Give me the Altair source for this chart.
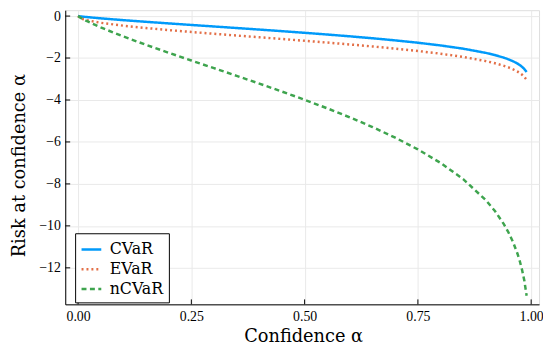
import altair as alt
import pandas as pd

# ---- data ----
alpha = [0.0, 0.005, 0.01, 0.02, 0.05, 0.10, 0.15, 0.20, 0.25, 0.30, 0.35, 0.40,
         0.45, 0.50, 0.55, 0.60, 0.65, 0.70, 0.75, 0.80, 0.85, 0.90, 0.92, 0.94,
         0.95, 0.96, 0.97, 0.975, 0.98, 0.985, 0.99]
cvar = [0.0, -0.0145, -0.0269, -0.0494, -0.1085, -0.1950, -0.2742, -0.3500, -0.4237,
        -0.4967, -0.5698, -0.6439, -0.7196, -0.7979, -0.8796, -0.9658, -1.0583,
        -1.1590, -1.2711, -1.3998, -1.5544, -1.7550, -1.8580, -1.9850, -2.0627,
        -2.1540, -2.2680, -2.3378, -2.4216, -2.5240, -2.6660]
evar = [0.0, -0.1001, -0.1418, -0.2010, -0.3203, -0.4590, -0.5701, -0.6680, -0.7585,
        -0.8446, -0.9282, -1.0108, -1.0935, -1.1774, -1.2637, -1.3537, -1.4490,
        -1.5518, -1.6651, -1.7941, -1.9479, -2.1460, -2.2476, -2.3721, -2.4477,
        -2.5373, -2.6482, -2.7162, -2.7971, -2.8981, -3.0349]
ncvar = [0.0, -0.0727, -0.1346, -0.2470, -0.5426, -0.9750, -1.3710, -1.7500, -2.1190,
         -2.4840, -2.8490, -3.2200, -3.5980, -3.9890, -4.3980, -4.8290, -5.2920,
         -5.7950, -6.3560, -6.9990, -7.7720, -8.7750, -9.2900, -9.9250, -10.3140,
         -10.7700, -11.3400, -11.6890, -12.1080, -12.6200, -13.3300]

series_names = ["CVaR", "EVaR", "nCVaR"]
series_colors = ["#009AFA", "#E36F47", "#3EA44E"]
series_dash = [[1, 0], [2, 3], [5, 3.5]]

x_ticks = [0.0, 0.25, 0.5, 0.75, 1.0]
y_ticks = [0, -2, -4, -6, -8, -10, -12]

# ---- tables ----
rows = []
for name, vals in zip(series_names, [cvar, evar, ncvar]):
    for a, v in zip(alpha, vals):
        rows.append({"alpha": a, "risk": v, "series": name})
df = pd.DataFrame(rows)
xt = pd.DataFrame({"alpha": x_ticks})
yt = pd.DataFrame({"risk": y_ticks})

W, H = 480, 298
xscale = alt.Scale(domain=[-0.0283, 1.0174], nice=False, zero=False)
yscale = alt.Scale(domain=[-13.74, 0.28], nice=False, zero=False)

serif = "DejaVu Serif"
tickfont = "Liberation Serif"

xaxis = alt.Axis(values=x_ticks, format=".2f", title="Confidence α",
                 labelFont=tickfont, labelFontSize=14, labelColor="black",
                 labelPadding=5, ticks=False, grid=True,
                 gridColor="#e9e9e9", gridWidth=1,
                 domainColor="black", domainWidth=1,
                 titleFont=serif, titleFontSize=18, titleFontWeight="normal",
                 titleColor="black", titleBaseline="alphabetic",
                 titleY=38, titleX=241, titleAlign="center")
yaxis = alt.Axis(values=y_ticks, format="d", title="Risk at confidence α",
                 labelFont=tickfont, labelFontSize=14, labelColor="black",
                 labelPadding=5, ticks=False, grid=True,
                 gridColor="#e9e9e9", gridWidth=1,
                 domainColor="black", domainWidth=1,
                 titleFont=serif, titleFontSize=18, titleFontWeight="normal",
                 titleColor="black", titleBaseline="alphabetic",
                 titleAngle=270, titleX=-41, titleY=H / 2 + 8, titleAlign="center")

legend = alt.Legend(title=None, orient="none", legendX=10, legendY=226,
                    fillColor="white", strokeColor="black",
                    padding=5, rowPadding=0,
                    labelFont=serif, labelFontSize=16, labelColor="black",
                    labelOffset=7, symbolType="stroke", symbolSize=400,
                    symbolStrokeWidth=2.5)

lines = alt.Chart(df).mark_line(strokeWidth=2.5).encode(
    x=alt.X("alpha:Q", scale=xscale, axis=xaxis),
    y=alt.Y("risk:Q", scale=yscale, axis=yaxis),
    color=alt.Color("series:N", scale=alt.Scale(domain=series_names, range=series_colors),
                    legend=legend),
    strokeDash=alt.StrokeDash("series:N", scale=alt.Scale(domain=series_names, range=series_dash),
                              legend=legend),
    order=alt.Order("alpha:Q"),
)

xtick_marks = alt.Chart(xt).mark_rule(color="black", strokeWidth=1).encode(
    x=alt.X("alpha:Q", scale=xscale),
    y=alt.value(H - 5), y2=alt.value(H),
)
ytick_marks = alt.Chart(yt).mark_rule(color="black", strokeWidth=1).encode(
    y=alt.Y("risk:Q", scale=yscale),
    x=alt.value(0), x2=alt.value(5),
)

chart = alt.layer(lines, xtick_marks, ytick_marks).properties(
    width=W, height=H,
    autosize=alt.AutoSizeParams(type="none"),
    padding={"left": 58, "top": 0, "right": 4, "bottom": 41},
).configure_view(strokeWidth=0).configure(background="white").configure_legend(
    strokeWidth=1, cornerRadius=0
)

chart.save("out.html", embed_options={"renderer": "svg", "actions": False})
